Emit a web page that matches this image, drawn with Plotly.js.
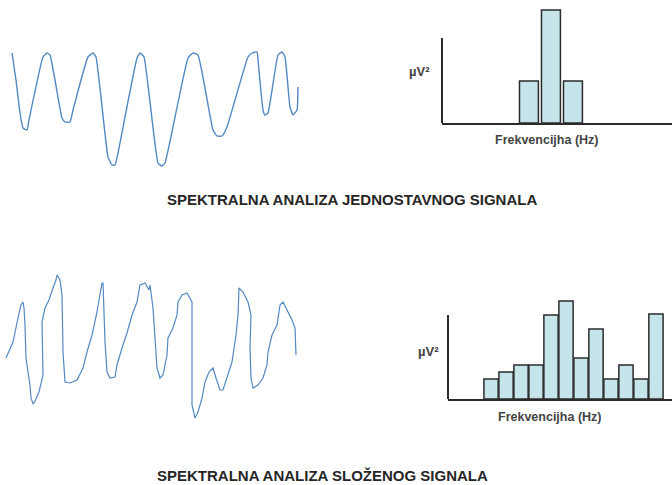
<!DOCTYPE html>
<html>
<head>
<meta charset="utf-8">
<script src="https://cdn.plot.ly/plotly-3.0.1.min.js"></script>
<style>html,body{margin:0;padding:0;background:#fff;}#chart{width:672px;height:485px;}</style>
</head>
<body>
<div id="chart"></div>
<script>
// Simple signal (top waveform): time samples and amplitude
const simpleT = [12, 16, 20, 23, 27, 29, 43, 47, 50, 62, 65, 70, 73, 88, 93, 96, 108, 112, 115, 118, 137, 140, 144, 158, 162, 165, 188, 193, 198, 213, 217, 222, 227, 248, 252, 257, 258, 263, 265, 268, 278, 282, 285, 290, 293, 297, 298];
const simpleA = [57, 30, -3, -18, -20, -10, 53, 57, 55, -8, -12, -12, 0, 53, 57, 53, -47, -55, -55, -43, 52, 57, 53, -53, -56, -53, 52, 57, 55, -20, -26, -26, -17, 53, 57, 58, 50, 0, -5, -3, 55, 58, 53, 3, -5, 0, 23];

// Complex signal (bottom waveform)
const complexT = [6, 13, 18, 21, 23, 24, 25, 26, 28, 30, 31, 33, 35, 39, 43, 42, 42, 45, 49, 53, 56, 57, 60, 62, 63, 63, 65, 70, 77, 83, 87, 92, 97, 100, 102, 103, 104, 105, 107, 110, 115, 117, 122, 127, 132, 137, 140, 145, 149, 150, 153, 155, 157, 160, 163, 167, 168, 173, 177, 178, 182, 187, 192, 192, 192, 195, 198, 202, 205, 209, 213, 216, 220, 223, 227, 232, 236, 238, 239, 243, 248, 251, 250, 251, 253, 258, 263, 267, 268, 272, 277, 280, 283, 287, 292, 295, 296];
const complexA = [-13, 3, 27, 40, 43, 37, 20, -13, -27, -40, -53, -59, -56, -47, -30, 3, 23, 37, 45, 57, 65, 70, 65, 50, 13, -7, -37, -38, -35, -23, -7, 10, 33, 53, 62, 62, 37, 3, -27, -33, -32, -20, -3, 12, 30, 43, 60, 62, 55, 60, 37, 3, -23, -33, -30, -10, 7, 17, 30, 43, 50, 52, 43, 13, -60, -73, -67, -53, -37, -27, -23, -33, -45, -45, -33, -17, 10, 30, 57, 53, 43, 30, -3, -33, -43, -40, -33, -20, -7, 10, 20, 40, 43, 35, 25, 17, -10];

// Spectrum of simple signal
const simpleBins = [1, 2, 3];
const simplePower = [42, 113, 42];

// Spectrum of complex signal
const complexBins = [1, 2, 3, 4, 5, 6, 7, 8, 9, 10, 11, 12];
const complexPower = [20, 27, 34, 34, 84, 98, 41, 70, 20, 34, 20, 85];

const powerLabel = 'µV²';
const freqLabel = 'Frekvencijha (Hz)';
const title1 = 'SPEKTRALNA ANALIZA JEDNOSTAVNOG SIGNALA';
const title2 = 'SPEKTRALNA ANALIZA SLOŽENOG SIGNALA';

const W = 672, H = 485;
const px = v => v / W;
const py = v => 1 - v / H;

const waveColor = '#5289c2';
const barFill = '#c6e5ea';
const barLine = '#2b2b2b';
const font = 'Liberation Sans, Arial, sans-serif';

const traces = [
  {x: simpleT, y: simpleA, type: 'scatter', mode: 'lines', xaxis: 'x', yaxis: 'y',
   line: {color: waveColor, width: 1.4, shape: 'spline', smoothing: 0.4}},
  {x: simpleBins, y: simplePower, type: 'bar', xaxis: 'x2', yaxis: 'y2', width: 0.86,
   marker: {color: barFill, line: {color: barLine, width: 1.5}}},
  {x: complexT, y: complexA, type: 'scatter', mode: 'lines', xaxis: 'x3', yaxis: 'y3',
   line: {color: waveColor, width: 1.2}},
  {x: complexBins, y: complexPower, type: 'bar', xaxis: 'x4', yaxis: 'y4', width: 0.95,
   marker: {color: barFill, line: {color: barLine, width: 1.5}}}
];

const hidden = {visible: false, fixedrange: true};

const layout = {
  width: W, height: H,
  margin: {l: 0, r: 0, t: 0, b: 0},
  paper_bgcolor: '#ffffff', plot_bgcolor: 'rgba(0,0,0,0)',
  showlegend: false,
  xaxis: Object.assign({}, hidden, {domain: [0, px(310)], range: [0, 310], anchor: 'y'}),
  yaxis: Object.assign({}, hidden, {domain: [py(180), py(0)], range: [-70, 110], anchor: 'x'}),
  xaxis2: {domain: [px(442), 1], range: [-2.95, 7.5], anchor: 'y2', showline: true, linecolor: barLine, linewidth: 2,
           showticklabels: false, ticks: '', showgrid: false, zeroline: false, fixedrange: true},
  yaxis2: Object.assign({}, hidden, {domain: [py(123), py(8)], range: [0, 115], anchor: 'x2'}),
  xaxis3: Object.assign({}, hidden, {domain: [0, px(310)], range: [0, 310], anchor: 'y3'}),
  yaxis3: Object.assign({}, hidden, {domain: [py(430), py(260)], range: [-85, 85], anchor: 'x3'}),
  xaxis4: {domain: [px(448), 1], range: [-1.87, 13.07], anchor: 'y4', showline: true, linecolor: barLine, linewidth: 2,
           showticklabels: false, ticks: '', showgrid: false, zeroline: false, fixedrange: true},
  yaxis4: Object.assign({}, hidden, {domain: [py(399), py(295)], range: [0, 104], anchor: 'x4'}),
  shapes: [
    {type: 'line', xref: 'x2 domain', yref: 'y2', x0: 0, x1: 0, y0: 0, y1: 85, line: {color: barLine, width: 2}},
    {type: 'line', xref: 'x4 domain', yref: 'y4', x0: 0, x1: 0, y0: 0, y1: 84, line: {color: barLine, width: 2}}
  ],
  annotations: [
    {text: '<b>' + powerLabel + '</b>', xref: 'paper', yref: 'paper', x: px(419), y: py(71), showarrow: false,
     font: {family: font, size: 13, color: '#444'}, xanchor: 'center', yanchor: 'middle'},
    {text: '<b>' + freqLabel + '</b>', xref: 'paper', yref: 'paper', x: px(547), y: py(140), showarrow: false,
     font: {family: font, size: 12.5, color: '#444'}, xanchor: 'center', yanchor: 'middle'},
    {text: '<b>' + powerLabel + '</b>', xref: 'paper', yref: 'paper', x: px(428), y: py(351), showarrow: false,
     font: {family: font, size: 13, color: '#444'}, xanchor: 'center', yanchor: 'middle'},
    {text: '<b>' + freqLabel + '</b>', xref: 'paper', yref: 'paper', x: px(550), y: py(417), showarrow: false,
     font: {family: font, size: 12.5, color: '#444'}, xanchor: 'center', yanchor: 'middle'},
    {text: '<b>' + title1 + '</b>', xref: 'paper', yref: 'paper', x: px(352), y: py(199), showarrow: false,
     font: {family: font, size: 15, color: '#262626'}, xanchor: 'center', yanchor: 'middle'},
    {text: '<b>' + title2 + '</b>', xref: 'paper', yref: 'paper', x: px(322), y: py(475), showarrow: false,
     font: {family: font, size: 15, color: '#262626'}, xanchor: 'center', yanchor: 'middle'}
  ]
};

Plotly.newPlot('chart', traces, layout, {staticPlot: true, displayModeBar: false});
</script>
</body>
</html>
